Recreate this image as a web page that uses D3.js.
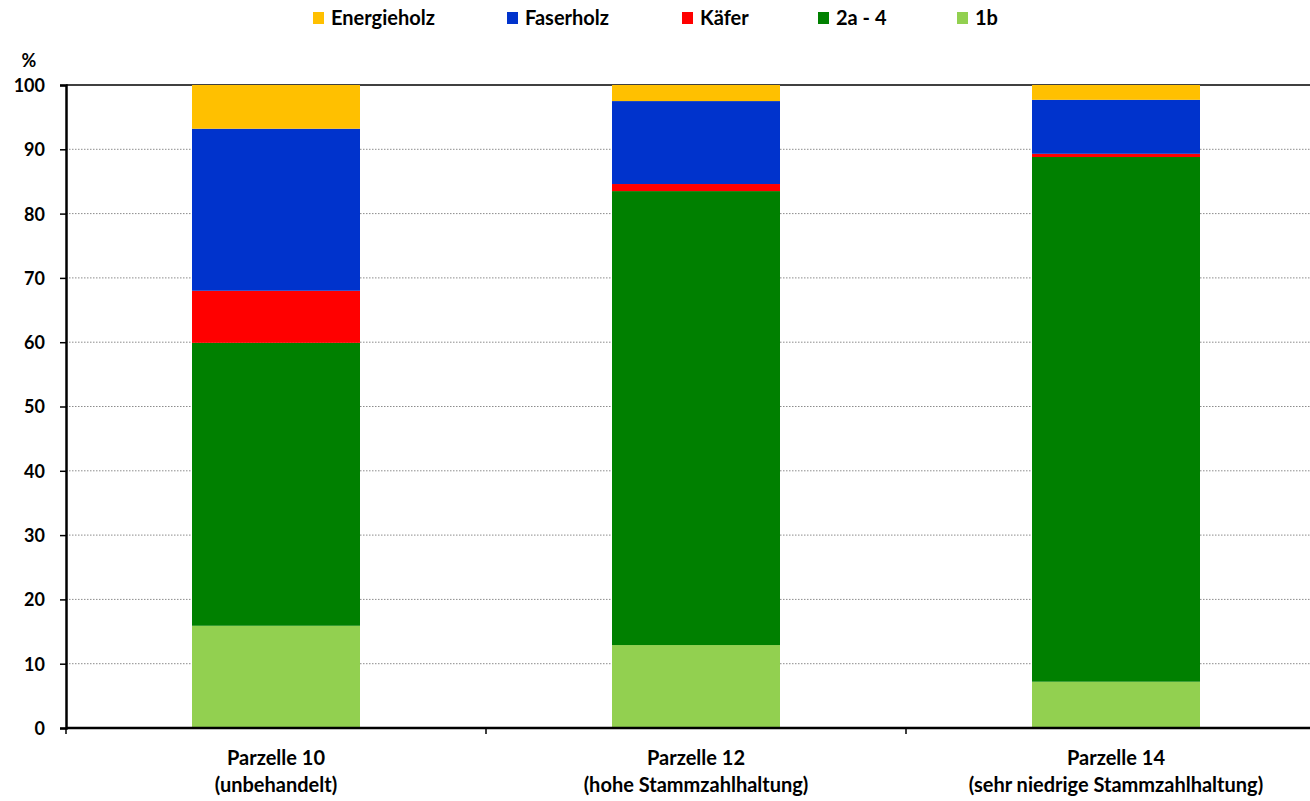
<!DOCTYPE html>
<html>
<head>
<meta charset="utf-8">
<script src="https://cdn.jsdelivr.net/npm/d3@7/dist/d3.min.js"></script>
<style>
  html, body { margin: 0; padding: 0; background: #fff; }
  svg text { font-family: Lato, "Open Sans", sans-serif; font-weight: 700; fill: #000; }
</style>
</head>
<body>
<svg id="chart" width="1310" height="801"></svg>
<script>
// Plots and their two-line labels
const categories = ["Parzelle 10", "Parzelle 12", "Parzelle 14"];
const categorySubtitles = ["(unbehandelt)", "(hohe Stammzahlhaltung)", "(sehr niedrige Stammzahlhaltung)"];

// Series, bottom to top of each stack (percent of volume)
const series1b = [15.9, 12.9, 7.2];
const series2a4 = [44.0, 70.6, 81.6];
const seriesKaefer = [8.1, 1.1, 0.5];
const seriesFaserholz = [25.2, 12.9, 8.4];
const seriesEnergieholz = [6.8, 2.5, 2.3];

const yTicks = [0, 10, 20, 30, 40, 50, 60, 70, 80, 90, 100];

const seriesDefs = [
  { key: "1b", values: series1b, color: "#92d050" },
  { key: "2a - 4", values: series2a4, color: "#008000" },
  { key: "Käfer", values: seriesKaefer, color: "#ff0000" },
  { key: "Faserholz", values: seriesFaserholz, color: "#0033cc" },
  { key: "Energieholz", values: seriesEnergieholz, color: "#ffc000" }
];

const table = categories.map((c, i) => {
  const row = { cat: c };
  seriesDefs.forEach(s => { row[s.key] = s.values[i]; });
  return row;
});

const svg = d3.select("#chart");
const margin = { left: 66, top: 85, right: 1326, bottom: 728 };

const x = d3.scaleBand().domain(categories).range([margin.left, margin.right]).paddingInner(0).paddingOuter(0);
const y = d3.scaleLinear().domain([0, 100]).range([margin.bottom, margin.top]);

// Dotted horizontal gridlines
svg.append("g").selectAll("line")
  .data(yTicks.filter(t => t > 0 && t < 100))
  .join("line")
  .attr("x1", margin.left).attr("x2", 1310)
  .attr("y1", d => y(d)).attr("y2", d => y(d))
  .attr("stroke", "#8c8c8c").attr("stroke-width", 1)
  .attr("stroke-dasharray", "1.5,1.5");

// Top border line at 100
svg.append("line")
  .attr("x1", margin.left).attr("x2", 1310)
  .attr("y1", y(100)).attr("y2", y(100))
  .attr("stroke", "#000").attr("stroke-width", 1.5);

// Stacked bars
const stack = d3.stack().keys(seriesDefs.map(s => s.key));
const stacked = stack(table);
const barWidth = x.bandwidth() * 0.4;

svg.append("g").selectAll("g")
  .data(stacked)
  .join("g")
  .attr("fill", (d, i) => seriesDefs[i].color)
  .selectAll("rect")
  .data(d => d)
  .join("rect")
  .attr("x", d => x(d.data.cat) + (x.bandwidth() - barWidth) / 2)
  .attr("width", barWidth)
  .attr("y", d => y(d[1]))
  .attr("height", d => y(d[0]) - y(d[1]));

// Y axis
const yAxis = d3.axisLeft(y).tickValues(yTicks).tickSize(6).tickPadding(15);
const gy = svg.append("g").attr("transform", `translate(${margin.left},0)`).call(yAxis);
gy.select(".domain").attr("stroke", "#000").attr("stroke-width", 2.5);
gy.selectAll(".tick line").attr("stroke", "#000").attr("stroke-width", 1.5);
gy.selectAll(".tick text").attr("font-size", 18).attr("dy", "0.36em");

// X axis with ticks at band boundaries
svg.append("line")
  .attr("x1", margin.left).attr("x2", 1310)
  .attr("y1", y(0)).attr("y2", y(0))
  .attr("stroke", "#000").attr("stroke-width", 2.5);
const boundaries = categories.map(c => x(c));
svg.append("g").selectAll("line")
  .data(boundaries)
  .join("line")
  .attr("x1", d => d).attr("x2", d => d)
  .attr("y1", y(0)).attr("y2", y(0) + 6)
  .attr("stroke", "#000").attr("stroke-width", 1.5);

// Category labels
const catLabels = svg.append("g").selectAll("text")
  .data(categories)
  .join("text")
  .attr("text-anchor", "middle")
  .attr("font-size", 20)
  .attr("x", d => x(d) + x.bandwidth() / 2);
catLabels.append("tspan").attr("x", d => x(d) + x.bandwidth() / 2).attr("y", 765).text(d => d);
catLabels.append("tspan").attr("x", d => x(d) + x.bandwidth() / 2).attr("y", 792).text((d, i) => categorySubtitles[i]);

// Unit label
svg.append("text").attr("x", 29).attr("y", 67).attr("text-anchor", "middle").attr("font-size", 18).text("%");

// Legend (top to bottom order of the stack)
const legendItems = seriesDefs.slice().reverse();
const legendX = [313, 507, 682, 818, 957];
const lg = svg.append("g").selectAll("g")
  .data(legendItems)
  .join("g")
  .attr("transform", (d, i) => `translate(${legendX[i]},12)`);
lg.append("rect").attr("width", 11).attr("height", 12).attr("fill", d => d.color);
lg.append("text").attr("x", 18).attr("y", 13).attr("font-size", 20).text(d => d.key);
</script>
</body>
</html>
